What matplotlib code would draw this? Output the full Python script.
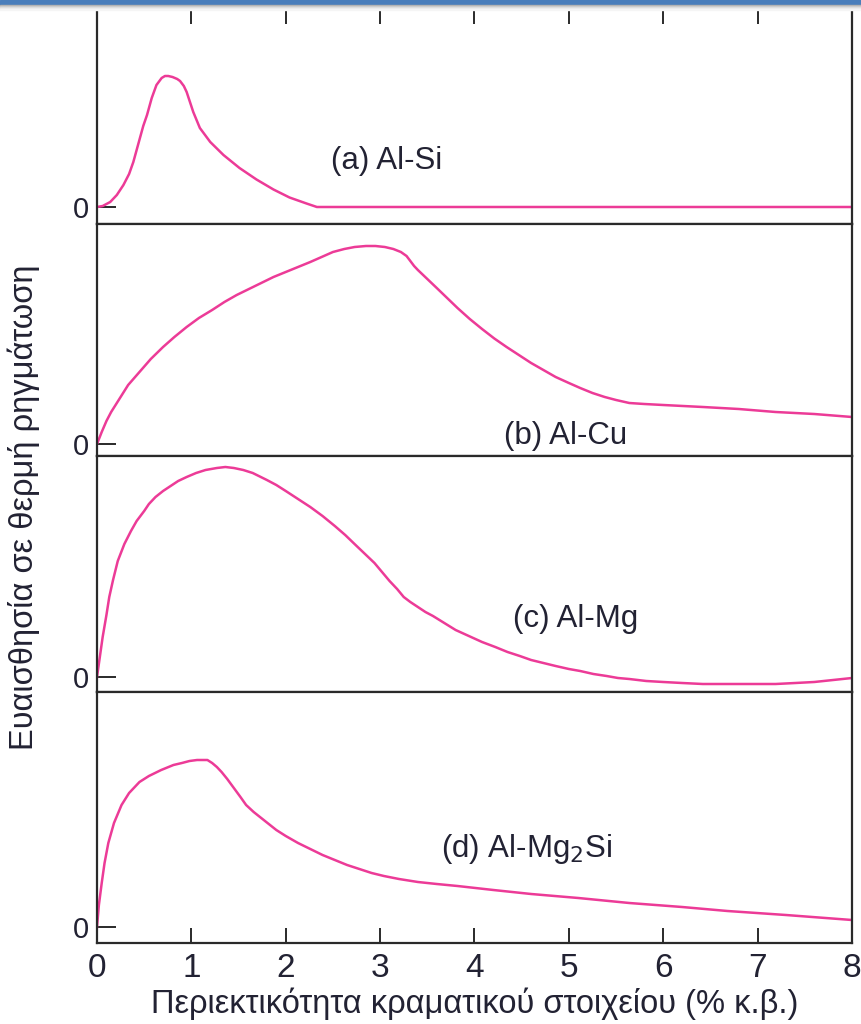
import matplotlib
matplotlib.use("Agg")
import matplotlib.pyplot as plt
from matplotlib.patches import Rectangle

plt.rcParams['font.family'] = ['Liberation Sans', 'DejaVu Sans']

# curves (x in % wt, y in arbitrary units, 0 = baseline)
x_alsi = [0.0, 0.06, 0.14, 0.21, 0.28, 0.34, 0.385, 0.42, 0.455, 0.49, 0.53, 0.58, 0.63, 0.685, 0.72, 0.755,
          0.80, 0.85, 0.88, 0.92, 0.95, 0.985, 1.02, 1.09, 1.20, 1.34, 1.51, 1.69, 1.87, 2.04, 2.22, 2.33, 8.0]
y_alsi = [0, 1, 5, 12, 22, 33, 45, 57, 69, 81, 92, 109, 122, 129, 131, 131,
          130, 128, 126, 121, 115, 105, 95, 79, 65, 52, 39, 27.5, 17.5, 9.5, 3.5, 0, 0]

x_alcu = [0.0, 0.05, 0.10, 0.15, 0.23, 0.33, 0.45, 0.57, 0.70, 0.82, 0.95, 1.08, 1.22, 1.35, 1.48, 1.61, 1.74, 1.87,
          2.0, 2.13, 2.26, 2.38, 2.50, 2.62, 2.73, 2.85, 2.95, 3.05, 3.14, 3.22, 3.28, 3.32, 3.36, 3.40, 3.50,
          3.60, 3.71, 3.82, 3.95, 4.08, 4.21, 4.34, 4.47, 4.60, 4.73, 4.86, 5.0, 5.12, 5.25, 5.38, 5.50, 5.64,
          5.80, 6.0, 6.42, 6.80, 7.19, 7.60, 8.0]
y_alcu = [0, 12, 23, 32, 44, 59, 72, 85, 97, 107, 117, 126, 134, 142, 149, 155, 161, 167,
          172, 177, 182, 187, 192, 195, 197, 198, 198, 197, 195, 192, 188, 183, 178, 174, 165,
          156, 146, 136, 125, 115, 105.5, 97, 89, 81, 74, 67, 61, 56, 51, 47, 44, 41,
          40, 39, 37, 35, 32, 30, 27]

x_almg = [0.0, 0.03, 0.06, 0.10, 0.13, 0.17, 0.22, 0.29, 0.36, 0.42, 0.50, 0.55, 0.62, 0.70, 0.78, 0.86, 0.95,
          1.05, 1.15, 1.27, 1.36, 1.45, 1.55, 1.65, 1.80, 1.90, 2.0, 2.13, 2.26, 2.39, 2.52, 2.63, 2.74, 2.84,
          2.94, 3.02, 3.10, 3.18, 3.25, 3.32, 3.40, 3.48, 3.56, 3.68, 3.80, 3.94, 4.08, 4.22, 4.35, 4.48, 4.60,
          4.73, 4.86, 5.0, 5.12, 5.26, 5.40, 5.52, 5.64, 5.82, 6.0, 6.20, 6.42, 6.60, 6.80, 7.0, 7.19, 7.40,
          7.60, 7.80, 8.0]
y_almg = [0, 20, 40, 62, 80, 97, 116, 133, 146, 156, 166, 173, 180, 186, 191, 196, 200,
          204, 207, 209, 210, 209, 207, 204, 197, 192, 186, 178, 170, 161, 151, 142, 132, 123,
          114, 105, 96, 88, 80, 75, 70, 65, 61, 54, 47, 41, 35, 30, 25, 21, 17,
          14, 11, 8, 6, 3, 1, -1, -2, -4, -5, -6, -7, -7, -7, -7, -7, -6,
          -5, -3, -1]

x_almg2si = [0.0, 0.02, 0.05, 0.08, 0.12, 0.18, 0.26, 0.34, 0.45, 0.55, 0.68, 0.81, 0.90, 0.98, 1.06, 1.12,
             1.17, 1.22, 1.27, 1.32, 1.38, 1.45, 1.52, 1.58, 1.66, 1.78, 1.90, 2.0, 2.13, 2.26, 2.39, 2.52,
             2.65, 2.78, 2.91, 3.04, 3.20, 3.40, 3.60, 3.82, 4.20, 4.60, 5.10, 5.64, 6.20, 6.68, 7.30, 8.0]
y_almg2si = [0, 22, 44, 64, 84, 104, 122, 134, 145, 151, 157, 162, 164, 166, 167, 167,
             167, 164, 160, 155, 148, 139, 130, 122, 115, 106, 97, 91, 84, 78, 72, 67,
             62, 58, 54, 51, 48, 45, 43, 41, 37, 33, 29, 24, 20, 16, 12, 7]

series = [(x_alsi, y_alsi), (x_alcu, y_alcu), (x_almg, y_almg), (x_almg2si, y_almg2si)]
labels = ['(a) Al-Si', '(b) Al-Cu', '(c) Al-Mg', '(d) Al-Mg$_2$Si']
label_pos = [(3.07, 46), (4.97, 8), (5.07, 58), (4.55, 78)]
ylims = [(-17, 198), (-12, 220), (-15, 221), (-16, 235)]
xticks = [0, 1, 2, 3, 4, 5, 6, 7, 8]

# panel frames in pixel rows (top, bottom)
W, H = 862, 1024
left_px, right_px = 97, 852
rows = [(9, 224), (224, 456), (456, 692), (692, 943)]

pink = '#ec3b97'
ink = '#2a2a2a'
txt = '#222233'

fig = plt.figure(figsize=(W / 100, H / 100), dpi=100)

# blue band at the very top of the screenshot
fig.patches.append(Rectangle((0, 1 - 5 / H), 1, 5 / H, transform=fig.transFigure,
                             color='#4a7ebb', zorder=0))
for i, c in enumerate(['#b0b0b0', '#c8c8c8', '#dcdcdc', '#ebebeb', '#f5f5f5']):
    fig.patches.append(Rectangle((0, 1 - (6 + i) / H), 1, 1 / H, transform=fig.transFigure,
                                 color=c, zorder=0))

for i, (top, bot) in enumerate(rows):
    ax = fig.add_axes([left_px / W, 1 - bot / H, (right_px - left_px) / W, (bot - top) / H])
    xs, ys = series[i]
    ax.plot(xs, ys, color=pink, lw=1.8, solid_joinstyle='round')
    ax.set_xlim(0, 8)
    ax.set_ylim(*ylims[i])
    ax.set_yticks([0])
    ax.set_yticklabels(['0'])
    ax.tick_params(axis='y', direction='in', length=14, width=1.4, color=ink,
                   labelsize=21, pad=6, labelcolor=txt)
    ax.set_xticks(xticks)
    if i == 0:
        ax.tick_params(axis='x', direction='in', top=True, bottom=False,
                       labeltop=False, labelbottom=False, length=11, width=1.4, color=ink)
    elif i == 3:
        ax.tick_params(axis='x', direction='in', length=11, width=1.4, color=ink,
                       labelsize=24, pad=7, labelcolor=txt)
        ax.set_xlabel('Περιεκτικότητα κραματικού στοιχείου (% κ.β.)', fontsize=23.5,
                      color=txt, labelpad=3)
    else:
        ax.tick_params(axis='x', length=0, labelbottom=False)
    for s in ax.spines.values():
        s.set_linewidth(1.6)
        s.set_color(ink)
    lx, ly = label_pos[i]
    ax.text(lx, ly, labels[i], fontsize=22.5, color=txt, ha='center', va='center')

fig.text(24 / W, 1 - 507 / H, 'Ευαισθησία σε θερμή ρηγμάτωση', rotation=90,
         ha='center', va='center', fontsize=23.5, color=txt)

fig.savefig('out.png', dpi=100)
